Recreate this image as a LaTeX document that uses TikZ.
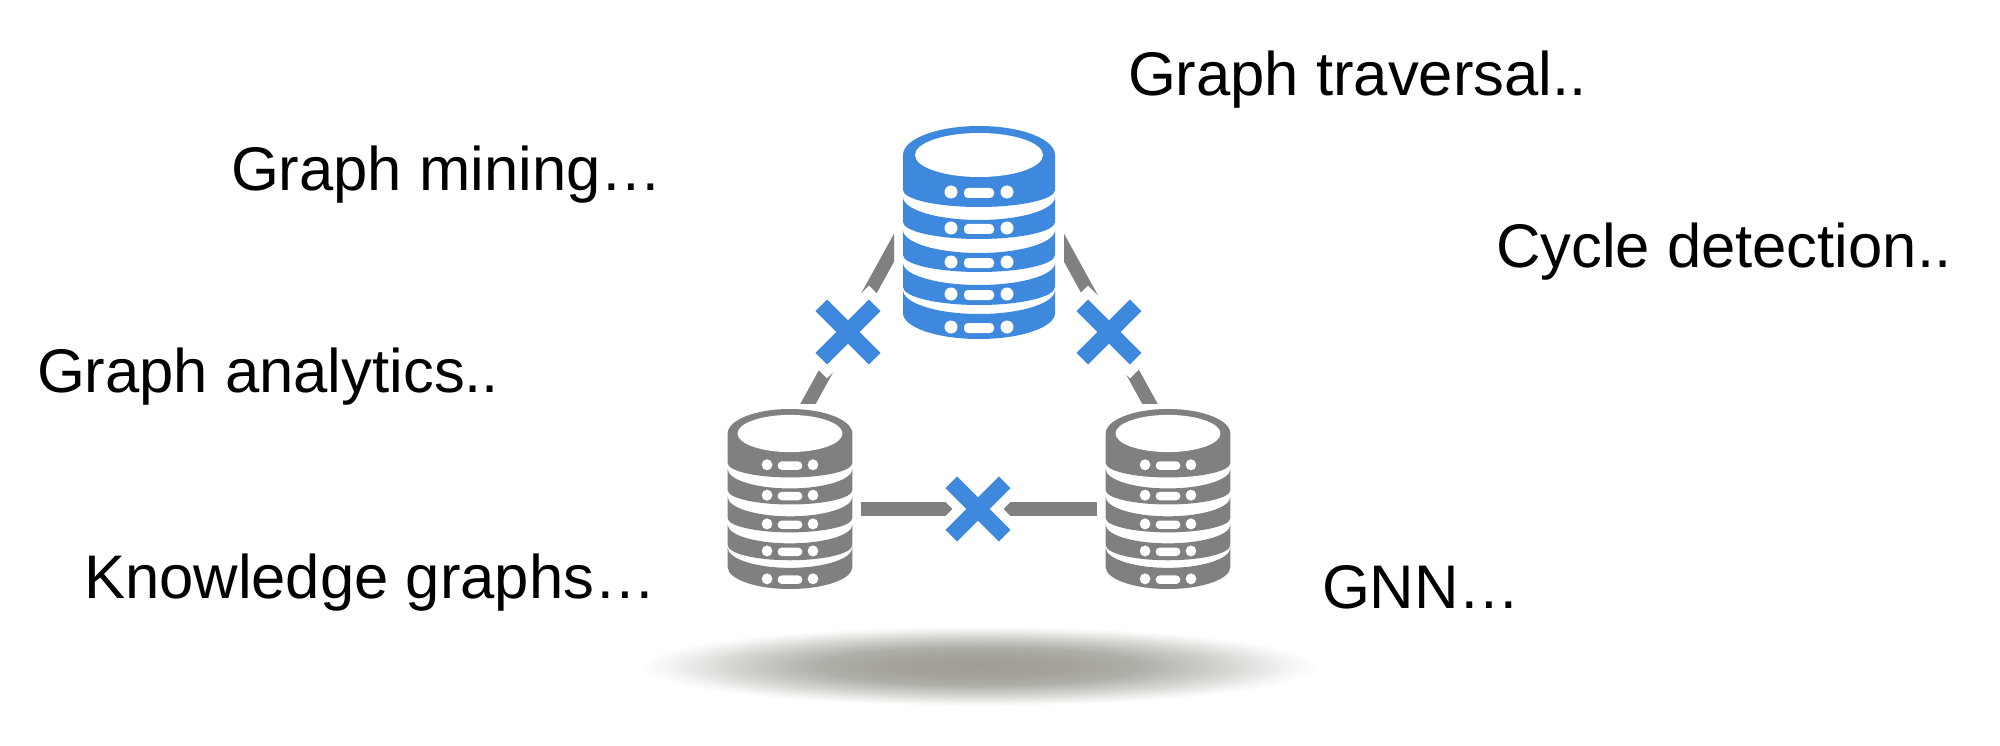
\documentclass[tikz,border=0pt]{standalone}
\usepackage{fontspec}
\setmainfont{Liberation Sans}
\definecolor{dbblue}{HTML}{3E88DD}
\definecolor{dbgray}{HTML}{808080}
\pgfdeclareradialshading{shadowfade}{\pgfpoint{0bp}{0bp}}{
  rgb(0bp)=(0.627,0.620,0.580);
  rgb(6bp)=(0.640,0.633,0.600);
  rgb(12bp)=(0.690,0.685,0.660);
  rgb(18bp)=(0.830,0.826,0.810);
  rgb(23bp)=(0.960,0.958,0.955);
  rgb(25bp)=(1,1,1);
  rgb(50bp)=(1,1,1)}
\tikzset{
  x=1pt,y=-1pt,
  label text/.style={anchor=base west,inner sep=0pt,outer sep=0pt,font=\fontsize{61.6}{70}\selectfont,text=black},
  link/.style={draw=dbgray,line width=13.5pt},
  xhalo/.style={draw=white,line width=36pt},
  xbar/.style={draw=dbblue,line width=16.5pt},
}
% name, centre x, top y, x scale, y scale, colour
\newcommand{\dbstack}[6]{%
  \coordinate (#1) at (#2,#3);
  \begin{scope}[shift={(#2,#3)},xscale=#4,yscale=#5]
    \fill[#6] (-76,29) arc[start angle=180,end angle=360,x radius=76,y radius=29]
      -- (76,64) arc[start angle=0,end angle=180,x radius=76,y radius=17] -- cycle;
    \fill[white] (0,29) ellipse[x radius=64,y radius=22];
    \foreach \st/\rt/\sb/\rb in {71/23/96/17,104/23/129/17,137/22/161/18,164/24/187/26}{
      \fill[#6] (-76,\st) arc[start angle=180,end angle=0,x radius=76,y radius=\rt]
        -- (76,\sb) arc[start angle=0,end angle=180,x radius=76,y radius=\rb] -- cycle;
    }
    \foreach \dy in {66,102,136,168,201}{
      \fill[white] (-28,\dy) ellipse[x radius=6.5,y radius=6.5];
      \fill[white] (28,\dy) ellipse[x radius=6.5,y radius=6.5];
      \fill[white,rounded corners=4pt] (-15,\dy-4) rectangle (15,\dy+6);
    }
  \end{scope}
}
\newcommand{\xmark}[3]{%
  \coordinate (#1) at (#2,#3);
  \begin{scope}[shift={(#1)}]
    \draw[xhalo] (-33.7,-33.7) -- (33.7,33.7);
    \draw[xhalo] (-33.7,33.7) -- (33.7,-33.7);
    \draw[xbar] (-26.7,-26.7) -- (26.7,26.7);
    \draw[xbar] (-26.7,26.7) -- (26.7,-26.7);
  \end{scope}
}
\begin{document}
\begin{tikzpicture}
\useasboundingbox (0,0) rectangle (2000,746);
\fill[white] (0,0) rectangle (2000,746);

% shadow
\shade[shading=shadowfade] (979,666) ellipse[x radius=338,y radius=40];

% connector end points
\coordinate (ltop) at (901,235);
\coordinate (lbot) at (798.5,421.16);
\coordinate (rtop) at (1057,235);
\coordinate (rbot) at (1159.5,421.16);
\coordinate (hl) at (861,509);
\coordinate (hr) at (1097,509);

% connectors
\begin{scope}
  \clip (780,200) rectangle (894,403);
  \draw[link] (lbot) -- (ltop);
\end{scope}
\begin{scope}
  \clip (1064,200) rectangle (1180,403);
  \draw[link] (rbot) -- (rtop);
\end{scope}
\draw[link] (hl) -- (hr);

% crosses
\xmark{xl}{848}{332}
\xmark{xr}{1109}{332}
\xmark{xh}{978}{509}

% databases
\dbstack{dbtop}{979}{126}{1}{1}{dbblue}
\dbstack{dbleft}{790}{409}{0.82}{0.845}{dbgray}
\dbstack{dbright}{1168}{409}{0.82}{0.845}{dbgray}

% labels
\node[label text] (t1) at (1128,96) {Graph traversal..};
\node[label text] (t2) at (231,191) {Graph mining…};
\node[label text] (t3) at (1496,267) {Cycle detection..};
\node[label text] (t4) at (37,392) {Graph analytics..};
\node[label text] (t5) at (84,598) {Knowledge graphs…};
\node[label text] (t6) at (1322,608) {GNN…};
\end{tikzpicture}
\end{document}
